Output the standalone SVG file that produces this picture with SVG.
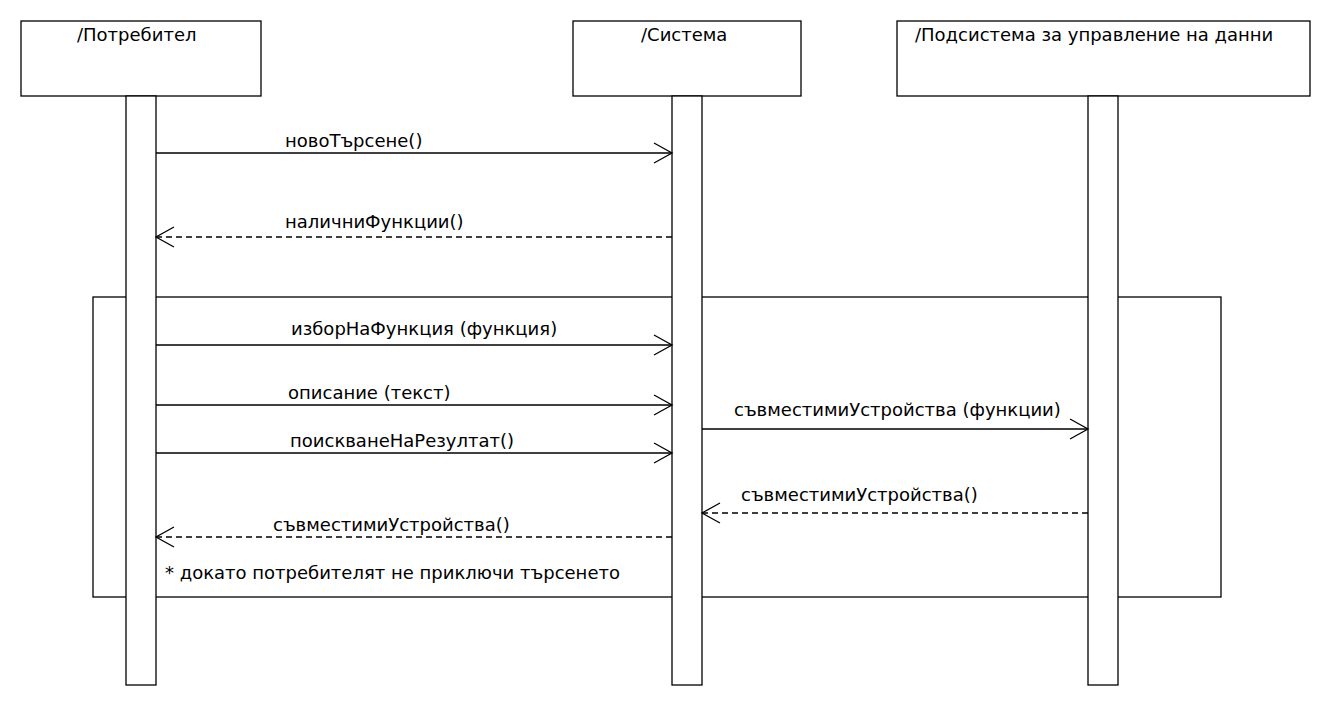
<svg xmlns="http://www.w3.org/2000/svg" width="1331" height="708" viewBox="0 0 1331 708">
<style>
.box{fill:#fff;stroke:#000;stroke-width:1.3}
.frame{fill:none;stroke:#000;stroke-width:1.3}
.msg{fill:none;stroke:#000;stroke-width:1.3}
.ret{fill:none;stroke:#000;stroke-width:1.3;stroke-dasharray:6,4}
.head{fill:none;stroke:#000;stroke-width:1.3}
text{font-family:"DejaVu Sans",sans-serif;font-size:18px;fill:#000}
</style>
<rect width="1331" height="708" fill="#fff"/>
<g id="frame-loop">
<rect class="frame" x="93" y="297" width="1128" height="300"/>
<text x="165" y="579">* докато потребителят не приключи търсенето</text>
</g>
<g id="node-user">
<rect class="box" x="21" y="21" width="240" height="75"/>
<text x="77" y="41">/Потребител</text>
<rect class="box" x="126" y="96" width="30" height="589"/>
</g>
<g id="node-system">
<rect class="box" x="573" y="21" width="228" height="75"/>
<text x="641" y="41">/Система</text>
<rect class="box" x="672" y="96" width="30" height="589"/>
</g>
<g id="node-data">
<rect class="box" x="897" y="21" width="413" height="75"/>
<text x="915" y="41">/Подсистема за управление на данни</text>
<rect class="box" x="1088" y="96" width="30" height="589"/>
</g>
<g id="connectors">
<line class="msg" x1="156" y1="153" x2="672" y2="153"/>
<polyline class="head" points="654,143 672,153 654,163"/>
<text x="285" y="147">новоТърсене()</text>

<line class="ret" x1="672" y1="237" x2="156" y2="237"/>
<polyline class="head" points="174,227 156,237 174,247"/>
<text x="285" y="228">наличниФункции()</text>

<line class="msg" x1="156" y1="345" x2="672" y2="345"/>
<polyline class="head" points="654,335 672,345 654,355"/>
<text x="291" y="335">изборНаФункция (функция)</text>

<line class="msg" x1="156" y1="405" x2="672" y2="405"/>
<polyline class="head" points="654,395 672,405 654,415"/>
<text x="288" y="399">описание (текст)</text>

<line class="msg" x1="156" y1="453" x2="672" y2="453"/>
<polyline class="head" points="654,443 672,453 654,463"/>
<text x="290" y="447">поискванеНаРезултат()</text>

<line class="msg" x1="702" y1="429" x2="1088" y2="429"/>
<polyline class="head" points="1070,419 1088,429 1070,439"/>
<text x="734" y="416">съвместимиУстройства (функции)</text>

<line class="ret" x1="1088" y1="513" x2="702" y2="513"/>
<polyline class="head" points="720,503 702,513 720,523"/>
<text x="741" y="501">съвместимиУстройства()</text>

<line class="ret" x1="672" y1="537" x2="156" y2="537"/>
<polyline class="head" points="174,527 156,537 174,547"/>
<text x="273" y="531">съвместимиУстройства()</text>
</g>
</svg>
